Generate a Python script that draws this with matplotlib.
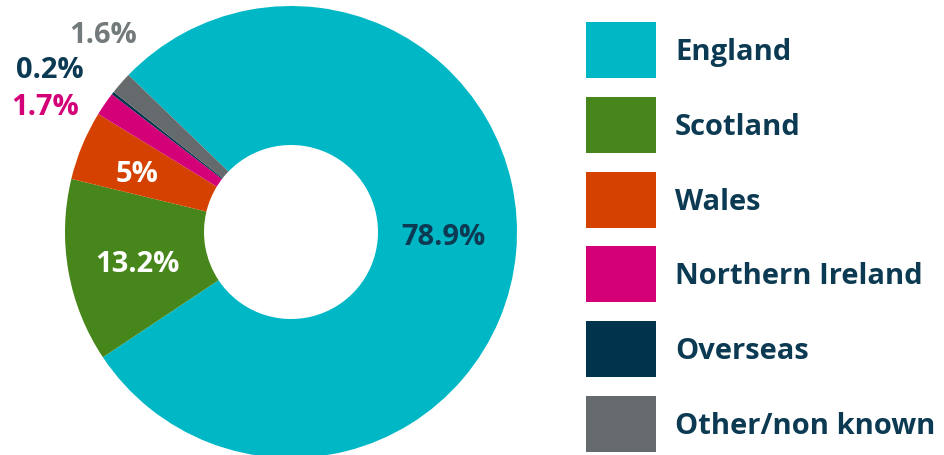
import matplotlib.pyplot as plt
from matplotlib.patches import Rectangle

# Share of respondents by nation
nations = ['England', 'Scotland', 'Wales', 'Northern Ireland', 'Overseas', 'Other/non known']
shares = [78.9, 13.2, 5.0, 1.7, 0.2, 1.6]
share_labels = ['78.9%', '13.2%', '5%', '1.7%', '0.2%', '1.6%']
colors = ['#00b7c5', '#46861a', '#d54100', '#d30077', '#00344d', '#656b6c']
label_colors = ['#0b3a52', 'white', 'white', '#d30077', '#0b3a52', '#737a7c']

navy = '#0b3a52'
plt.rcParams['font.family'] = ['Open Sans', 'DejaVu Sans']

fig = plt.figure(figsize=(9.45, 4.55), dpi=100)
ax = fig.add_axes([0, 0, 1, 1])

# pie is drawn in pixel space, y going up
cx, cy, r = 291, 455 - 232, 226
wedges, _ = ax.pie(shares, colors=colors, startangle=136, counterclock=False,
                   center=(cx, cy), radius=r, wedgeprops=dict(width=r - 87, linewidth=0))

# label baselines (pixels from top-left)
label_pos = [(443, 245), (137, 272), (137, 182), (45, 115), (50, 78), (103, 43)]
for txt, (x, y), c in zip(share_labels, label_pos, label_colors):
    ax.text(x, 455 - y, txt, color=c, fontsize=21, fontweight='bold',
            ha='center', va='baseline')

# legend on the right
for i, (name, c) in enumerate(zip(nations, colors)):
    top = 22 + i * 74.8
    ax.add_patch(Rectangle((586, 455 - top - 56), 70, 56, color=c, linewidth=0))
    ax.text(675, 455 - top - 38, name, color=navy, fontsize=21, fontweight='bold',
            ha='left', va='baseline')

ax.set_xlim(0, 945)
ax.set_ylim(0, 455)
ax.set_aspect('equal')
ax.axis('off')

fig.savefig('out.png', dpi=100)
